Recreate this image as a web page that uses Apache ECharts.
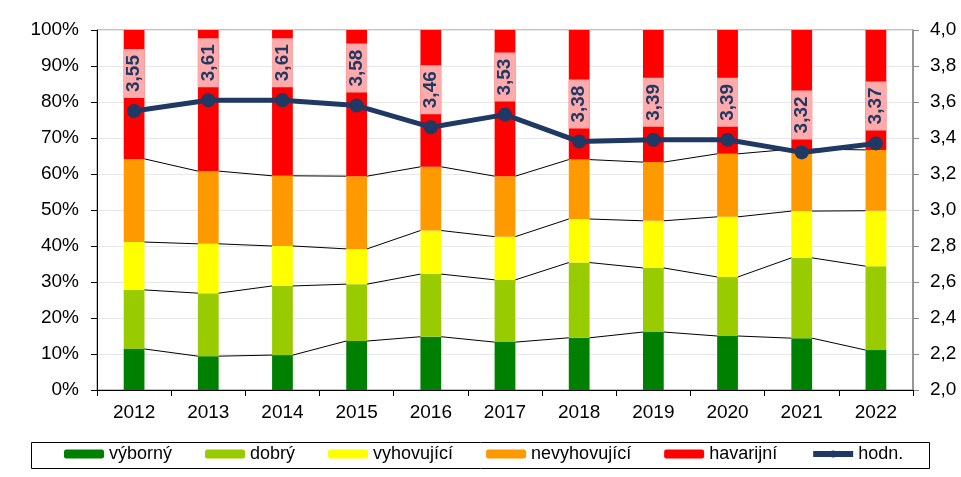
<!DOCTYPE html>
<html>
<head>
<meta charset="utf-8">
<script src="https://cdn.jsdelivr.net/npm/echarts@6/dist/echarts.min.js"></script>
<style>
html,body{margin:0;padding:0;background:#fff;}
#c{width:961px;height:477px;}
</style>
</head>
<body>
<div id="c"></div>
<script>
var years = ['2012','2013','2014','2015','2016','2017','2018','2019','2020','2021','2022'];
var vyborny     = [11.4, 9.4, 9.7, 13.6, 14.8, 13.3, 14.5, 16.1, 15.0, 14.4, 11.1];
var dobry       = [16.4, 17.5, 19.2, 15.8, 17.4, 17.3, 20.9, 17.8, 16.4, 22.3, 23.3];
var vyhovujici  = [13.3, 13.7, 11.1, 9.8, 12.1, 12.0, 12.1, 13.1, 16.7, 13.0, 15.4];
var nevyhovujici= [23.1, 20.2, 19.5, 20.2, 17.7, 16.8, 16.5, 16.3, 17.5, 17.2, 16.9];
var havarijni   = [35.8, 39.2, 40.5, 40.6, 38.0, 40.6, 36.0, 36.7, 34.4, 33.1, 33.3];
var hodn        = [3.55, 3.61, 3.61, 3.58, 3.46, 3.53, 3.38, 3.39, 3.39, 3.32, 3.37];
var leftTicks = ['0%','10%','20%','30%','40%','50%','60%','70%','80%','90%','100%'];

var stacks = [vyborny, dobry, vyhovujici, nevyhovujici];
var cums = [];
(function(){
  var run = years.map(function(){return 0;});
  for (var s = 0; s < stacks.length; s++) {
    run = run.map(function(v, i){ return v + stacks[s][i]; });
    cums.push(run.slice());
  }
})();

var BAR_RATIO = 0.28;
var font = 'Liberation Sans, Arial, sans-serif';

function fmt1(v){ return v.toFixed(1).replace('.', ','); }
function fmt2(v){ return v.toFixed(2).replace('.', ','); }

var chart = echarts.init(document.getElementById('c'), null, {renderer:'canvas'});

var barSeries = [
  {name:'výborný', data:vyborny, color:'#008000'},
  {name:'dobrý', data:dobry, color:'#99CC00'},
  {name:'vyhovující', data:vyhovujici, color:'#FFFF00'},
  {name:'nevyhovující', data:nevyhovujici, color:'#FF9900'},
  {name:'havarijní', data:havarijni, color:'#FF0000'}
].map(function(s){
  return {
    name: s.name, type:'bar', stack:'a', data:s.data, barWidth:(BAR_RATIO*100)+'%',
    itemStyle:{color:s.color}, yAxisIndex:0, z:2, silent:true
  };
});

var connectorData = [];
for (var i = 0; i < years.length - 1; i++) connectorData.push([i]);

var connector = {
  type:'custom', name:'_conn', yAxisIndex:0, xAxisIndex:0, z:3, silent:true,
  data: connectorData,
  encode:{x:0},
  renderItem: function(params, api){
    var i = api.value(0);
    var bw = api.size([1,0])[0];
    var half = bw * BAR_RATIO / 2;
    var children = [];
    for (var k = 0; k < cums.length; k++) {
      var p1 = api.coord([i, cums[k][i]]);
      var p2 = api.coord([i+1, cums[k][i+1]]);
      children.push({
        type:'line',
        shape:{x1:p1[0]+half, y1:p1[1], x2:p2[0]-half, y2:p2[1]},
        style:{stroke:'#000', lineWidth:1}
      });
    }
    return {type:'group', children:children};
  }
};

var lineSeries = {
  name:'hodn.', type:'line', yAxisIndex:1, data:hodn, z:5,
  symbol:'circle', symbolSize:14,
  lineStyle:{color:'#1F3864', width:5},
  itemStyle:{color:'#1F3864'},
  label:{
    show:true, position:'top', distance:6, rotate:90, align:'left', verticalAlign:'middle',
    formatter:function(p){ return fmt2(p.value); },
    color:'#1F3864', fontFamily:font, fontSize:19, lineHeight:19, fontWeight:'bold',
    backgroundColor:'#FFABAB', padding:[1,6,1,6]
  },
  silent:true
};

chart.setOption({
  animation:false,
  backgroundColor:'#fff',
  grid:{left:97, right:48, top:30, bottom:87, show:true, borderColor:'#878787', borderWidth:1, backgroundColor:'transparent'},
  legend:{
    left:64, top:445, padding:0, itemGap:33, itemWidth:40, itemHeight:9,
    data:['výborný','dobrý','vyhovující','nevyhovující','havarijní',
      {name:'hodn.', lineStyle:{width:6, color:'#1F3864'}, itemStyle:{color:'#1F3864'}}],
    textStyle:{fontFamily:font, fontSize:18, color:'#000'},
    selectedMode:false
  },
  graphic:[{
    type:'rect', left:29, top:440, shape:{x:0,y:0,width:898,height:26},
    style:{fill:'none', stroke:'#000', lineWidth:1}, z:-1, silent:true
  }],
  xAxis:{
    type:'category', data:years, boundaryGap:true,
    axisLine:{lineStyle:{color:'#000', width:1}},
    axisTick:{show:true, length:6, alignWithLabel:false, lineStyle:{color:'#000'}},
    axisLabel:{fontFamily:font, fontSize:19, color:'#000', margin:13}
  },
  yAxis:[{
    type:'value', min:0, max:100, interval:10, position:'left',
    axisLine:{show:true, lineStyle:{color:'#000'}},
    axisTick:{show:true, length:6, lineStyle:{color:'#000'}},
    axisLabel:{fontFamily:font, fontSize:19, color:'#000', margin:18,
      formatter:function(v){ return leftTicks[Math.round(v/10)]; }},
    splitLine:{show:true, lineStyle:{color:'#E8E8E8', width:1}}
  },{
    type:'value', min:2, max:4, interval:0.2, position:'right',
    axisLine:{show:true, lineStyle:{color:'#878787', width:1.5}},
    axisTick:{show:true, length:6, lineStyle:{color:'#878787'}},
    axisLabel:{fontFamily:font, fontSize:19, color:'#000', margin:17, formatter:function(v){return fmt1(v);}},
    splitLine:{show:false}
  }],
  series: barSeries.concat([connector, lineSeries])
});
</script>
</body>
</html>
